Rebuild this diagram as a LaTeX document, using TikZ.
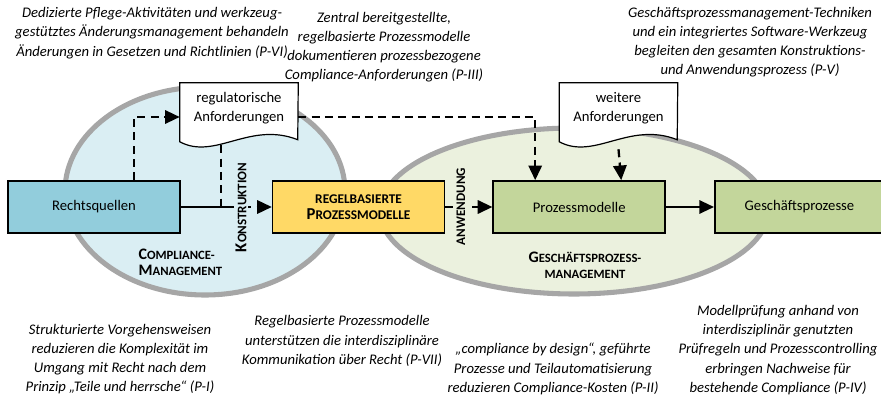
\documentclass[tikz,border=0pt]{standalone}
\usepackage{fontspec}
\setmainfont{Carlito}
\usetikzlibrary{arrows.meta,positioning,calc}
\definecolor{rqblue}{RGB}{146,205,220}
\definecolor{cmblue}{RGB}{218,238,243}
\definecolor{bpgreen}{RGB}{235,241,222}
\definecolor{pmgreen}{RGB}{195,214,155}
\definecolor{rbyellow}{RGB}{255,217,102}
\definecolor{rimgray}{RGB}{166,166,166}
\newcommand{\kapbig}{12}
\newcommand{\kapsmall}{9.5}
\newcommand{\kap}[2]{{\fontsize{\kapbig}{14.25}\selectfont #1}{\fontsize{\kapsmall}{14.25}\selectfont #2}}

\begin{document}
\begin{tikzpicture}[x=0.75pt, y=-0.75pt, font=\fontsize{11}{14.25}\selectfont,
  box/.style={draw, line width=1.2pt, minimum width=129pt, minimum height=39pt, inner sep=0pt, align=center},
  docbox/.style={minimum width=88.5pt, minimum height=37.5pt, inner sep=0pt, align=center},
  docline/.style={draw, fill=white, line width=0.9pt},
  rim/.style={draw=rimgray, line width=3.8pt},
  note/.style={font=\fontsize{11}{14.4}\selectfont\itshape, align=center},
  tag/.style={font=\bfseries, inner sep=1pt},
  vtag/.style={tag, rotate=90, font=\bfseries\def\kapbig{12.5}\def\kapsmall{9.8}},
  dline/.style={line width=1.7pt, dash pattern=on 6pt off 4pt},
  sline/.style={line width=1.5pt},
  tip/.style={-{Triangle[length=11pt, width=10pt]}}]
\useasboundingbox (0,0) rectangle (881,395);

% ellipses
\draw[rim, fill=cmblue] (205,191) ellipse [x radius=140, y radius=104];
\draw[rim, fill=bpgreen] (574,211) ellipse [x radius=194, y radius=83];

% process chain
\node[box, fill=rqblue] (rq) at (94,207) {Rechtsquellen};
\node[box, fill=rbyellow, right=68.25pt of rq, font=\bfseries\def\kapbig{12.5}\def\kapsmall{10}] (rb) {\kap{}{REGELBASIERTE}\\\kap{P}{ROZESSMODELLE}};
\node[box, fill=pmgreen, right=35.25pt of rb] (pm) {Prozessmodelle};
\node[box, fill=pmgreen, right=36pt of pm, minimum width=127pt] (gp) {Geschäftsprozesse};

% documents
\node[docbox] (reg) at (239,108) {regulatorische\\Anforderungen};
\draw[docline] (reg.north west) -- (reg.north east) -- ($(reg.north west)+(118,57)$)
  .. controls ($(reg.north west)+(70,38)$) and ($(reg.north west)+(35,78)$) .. ($(reg.north west)+(0,59)$) -- cycle;
\node[docbox] at (reg) {regulatorische\\Anforderungen};
\node[docbox] (wa) at (618.5,108) {weitere\\Anforderungen};
\draw[docline] (wa.north west) -- (wa.north east) -- ($(wa.north west)+(118,57)$)
  .. controls ($(wa.north west)+(70,38)$) and ($(wa.north west)+(35,78)$) .. ($(wa.north west)+(0,59)$) -- cycle;
\node[docbox] at (wa) {weitere\\Anforderungen};

% connectors
\coordinate (kj) at (230,207);
\coordinate (kd) at (221,207);
\draw[sline] (rq.east) -- (kj);
\draw[dline, tip] (kj) -- (rb.west);
\draw[dline, tip] ($(rq.north)+(40,0)$) |- ($(reg.west)+(0,9)$);
\draw[dline] ($(reg.south -| kd)+(0,12)$) -- (kd);
\draw[dline, tip] ($(reg.east)+(0,9)$) -| ($(pm.north)+(-44,0)$);
\draw[dline, tip] ($(wa.south)+(0,16)$) -- ($(pm.north)+(42,0)$);
\draw[dline, tip] (rb.east) -- (pm.west);
\draw[sline, tip] (pm.east) -- (gp.west);

% labels
\node[vtag, fill=cmblue] (kon) at (241,207.5) {\kap{K}{ONSTRUKTION}};
\node[vtag, fill=bpgreen] (anw) at (461,206.5) {\kap{}{ANWENDUNG}};
\node[tag, align=left, anchor=west] (cm) at (137,262) {\kap{C}{OMPLIANCE-}\\\kap{M}{ANAGEMENT}};
\node[tag, align=center] (gpm) at (585,265) {\kap{G}{ESCHÄFTSPROZESS-}\\\kap{}{MANAGEMENT}};

% notes
\node[note] (n6) at (152,33) {Dedizierte Pflege-Aktivitäten und werkzeug-\\gestütztes Änderungsmanagement behandeln\\Änderungen in Gesetzen und Richtlinien (P-VI)};
\node[note] (n3) at (384,47) {Zentral bereitgestellte,\\regelbasierte Prozessmodelle\\dokumentieren prozessbezogene\\Compliance-Anforderungen (P-III)};
\node[note] (n5) at (750,42) {Geschäftsprozessmanagement-Techniken\\und ein integriertes Software-Werkzeug\\begleiten den gesamten Konstruktions-\\und Anwendungsprozess (P-V)};
\node[note] (n1) at (120,359) {Strukturierte Vorgehensweisen\\reduzieren die Komplexität im\\Umgang mit Recht nach dem\\Prinzip „Teile und herrsche“ (P-I)};
\node[note] (n7) at (342,341) {Regelbasierte Prozessmodelle\\unterstützen die interdisziplinäre\\Kommunikation über Recht (P-VII)};
\node[note] (n2) at (553,369) {„compliance by design“, geführte\\Prozesse und Teilautomatisierung\\reduzieren Compliance-Kosten (P-II)};
\node[note] (n4) at (778,350) {Modellprüfung anhand von\\interdisziplinär genutzten\\Prüfregeln und Prozesscontrolling\\erbringen Nachweise für\\bestehende Compliance (P-IV)};
\end{tikzpicture}
\end{document}
